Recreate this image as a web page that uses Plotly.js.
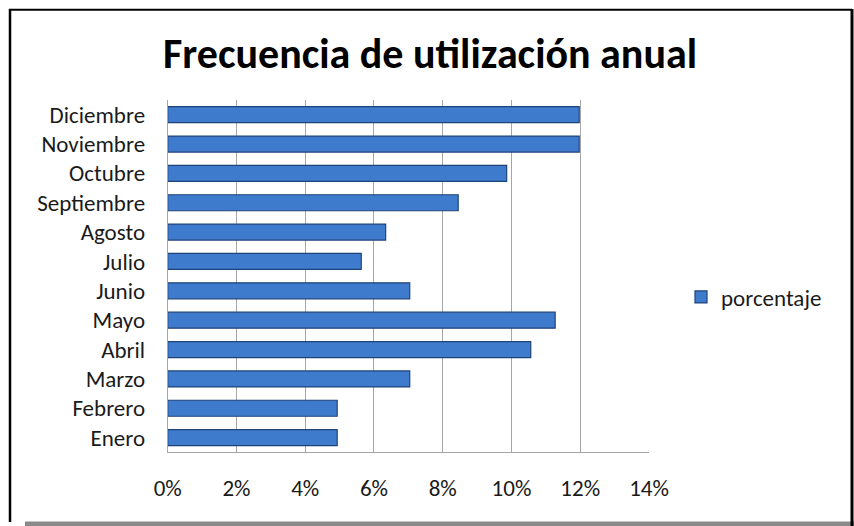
<!DOCTYPE html>
<html>
<head>
<meta charset="utf-8">
<script src="https://cdn.plot.ly/plotly-3.0.1.min.js"></script>
<style>
  html, body { margin: 0; padding: 0; background: #ffffff; }
  #chart { width: 854px; height: 526px; }
</style>
</head>
<body>
<div id="chart"></div>
<script>
// Data
const months = ["Enero", "Febrero", "Marzo", "Abril", "Mayo", "Junio",
                "Julio", "Agosto", "Septiembre", "Octubre", "Noviembre", "Diciembre"];
const porcentaje = [0.0493, 0.0493, 0.0704, 0.1056, 0.1127, 0.0704,
                    0.0563, 0.0634, 0.0845, 0.0986, 0.1197, 0.1197];
const xTickValues = [0, 0.02, 0.04, 0.06, 0.08, 0.10, 0.12, 0.14];
const seriesName = "porcentaje";
const chartTitle = "Frecuencia de utilización anual";

const W = 854, H = 526;
const px = v => v / W;
const py = v => 1 - v / H;

const fontFamily = "Carlito, Lato, 'Open Sans', sans-serif";

const trace = {
  type: "bar",
  orientation: "h",
  x: porcentaje,
  y: months,
  name: seriesName,
  showlegend: true,
  marker: {
    color: "#3f7bcc",
    line: { color: "#1f4378", width: 1.2 }
  },
  hoverinfo: "x+y"
};

const layout = {
  width: W,
  height: H,
  margin: { l: 0, r: 0, t: 0, b: 0 },
  paper_bgcolor: "#ffffff",
  plot_bgcolor: "#ffffff",
  font: { family: fontFamily, color: "#1a1a1a", size: 23 },
  title: {
    text: "<b>" + chartTitle + "</b>",
    font: { family: fontFamily, size: 42, color: "#000000" },
    x: px(430), xanchor: "center",
    y: py(53), yanchor: "middle"
  },
  bargap: 0.455,
  xaxis: {
    domain: [px(167.7), px(649)],
    range: [0, 0.14],
    tickvals: xTickValues,
    tickformat: ".0%",
    showgrid: true,
    gridcolor: "#a6a6a6",
    gridwidth: 1,
    zeroline: false,
    showline: true,
    linecolor: "#a6a6a6",
    linewidth: 1,
    ticks: "",
    ticklabelstandoff: 15,
    tickfont: { family: fontFamily, size: 23, color: "#1a1a1a" },
    fixedrange: true
  },
  yaxis: {
    domain: [py(452.3), py(100)],
    type: "category",
    showgrid: false,
    zeroline: false,
    showline: true,
    linecolor: "#a6a6a6",
    linewidth: 1,
    ticks: "",
    ticklabelstandoff: 17,
    tickfont: { family: fontFamily, size: 23, color: "#1a1a1a" },
    fixedrange: true
  },
  legend: {
    x: px(681), xanchor: "left",
    y: py(297), yanchor: "middle",
    bgcolor: "rgba(0,0,0,0)",
    font: { family: fontFamily, size: 23, color: "#1a1a1a" }
  },
  shapes: [
    // bottom shadow
    { type: "rect", xref: "paper", yref: "paper",
      x0: px(25), x1: px(854), y0: py(526), y1: py(521.5),
      fillcolor: "#8a8a8a", line: { width: 0 }, layer: "below" },
    // frame: left, top, right
    { type: "line", xref: "paper", yref: "paper",
      x0: px(10), x1: px(10), y0: py(522), y1: py(9),
      line: { color: "#000000", width: 2.5 } },
    { type: "line", xref: "paper", yref: "paper",
      x0: px(9), x1: px(852), y0: py(9.8), y1: py(9.8),
      line: { color: "#000000", width: 2 } },
    { type: "line", xref: "paper", yref: "paper",
      x0: px(852), x1: px(852), y0: py(526), y1: py(9),
      line: { color: "#000000", width: 3 } }
  ]
};

Plotly.newPlot("chart", [trace], layout, { displayModeBar: false, staticPlot: true });
</script>
</body>
</html>
